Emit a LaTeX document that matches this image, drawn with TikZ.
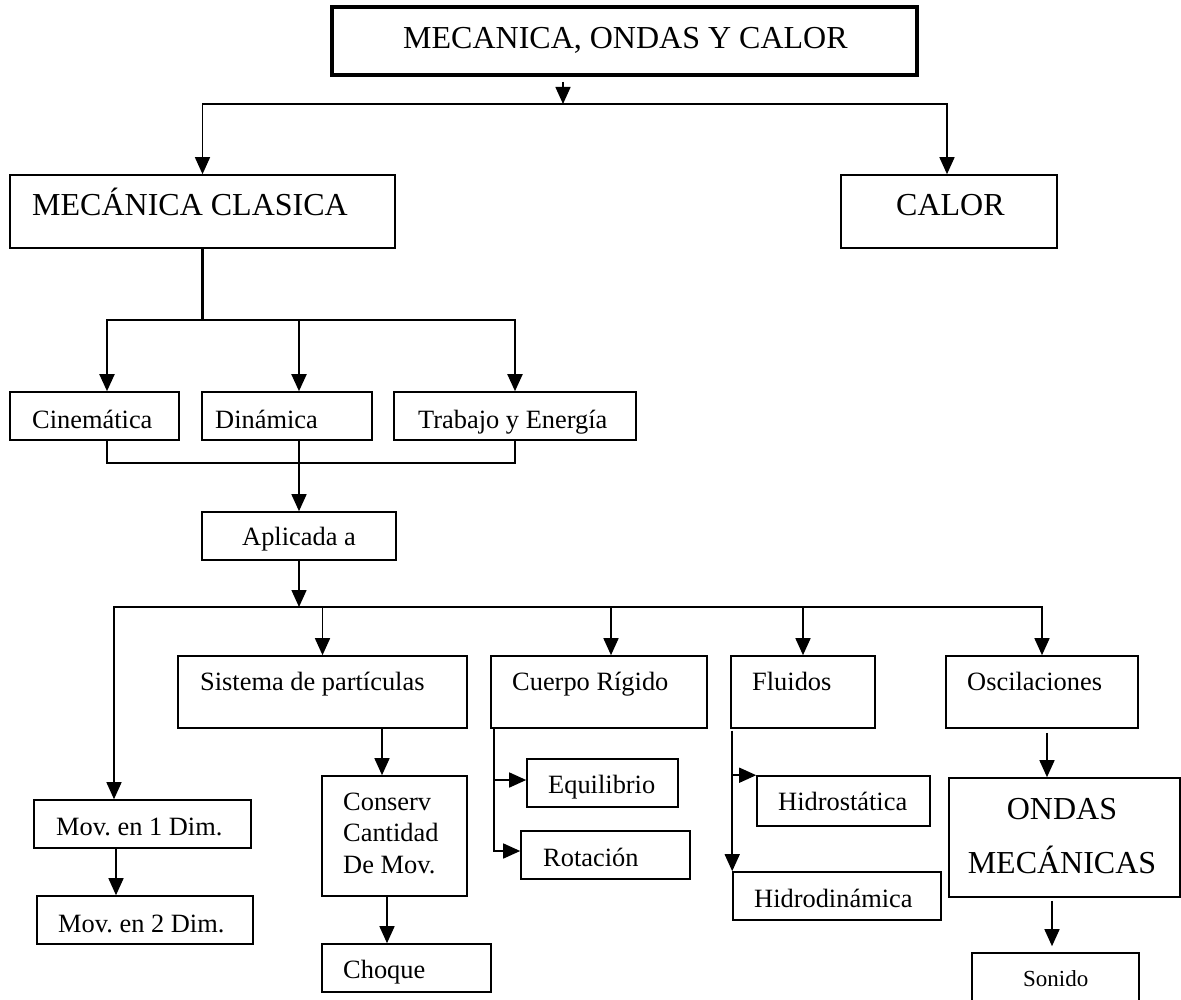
\documentclass[tikz,border=0pt]{standalone}
\usepackage{fontspec}
\setmainfont{Liberation Serif}
\usepackage{tikz}
\usetikzlibrary{arrows.meta}
\frenchspacing

\begin{document}
\begin{tikzpicture}[x=1pt, y=-1pt,
  caja/.style={draw, line width=1.6pt, inner sep=0pt},
  letra/.style={anchor=base west, inner sep=0pt, font=\fontsize{26.4}{31.5}\selectfont},
  letragrande/.style={anchor=base west, inner sep=0pt, font=\fontsize{32}{38}\selectfont},
  flecha/.style={line width=1.5pt, -{Triangle[length=17pt, width=15pt]}},
  gruesa/.style={line width=2.6pt}]
\useasboundingbox (0,0) rectangle (1181,1000);
\clip (0,0) rectangle (1181,1000);

% cajas
\node[caja, line width=3.6pt, minimum width=585pt, minimum height=68pt] (general) at (624.5,41) {};
\node[caja, minimum width=385pt, minimum height=73pt] (clasica) at (202.5,211.5) {};
\node[caja, minimum width=216pt, minimum height=73pt] (calor) at (949,211.5) {};
\node[caja, minimum width=169pt, minimum height=48pt] (cinematica) at (94.5,416) {};
\node[caja, minimum width=170pt, minimum height=48pt] (dinamica) at (287,416) {};
\node[caja, minimum width=242pt, minimum height=48pt] (trabajo) at (515,416) {};
\node[caja, minimum width=194pt, minimum height=48pt] (aplicada) at (299,536) {};
\node[caja, minimum width=289pt, minimum height=72pt] (sistema) at (322.5,692) {};
\node[caja, minimum width=216pt, minimum height=72pt] (cuerpo) at (599,692) {};
\node[caja, minimum width=144pt, minimum height=72pt] (fluidos) at (803,692) {};
\node[caja, minimum width=192pt, minimum height=72pt] (oscilaciones) at (1042,692) {};
\node[caja, minimum width=217pt, minimum height=48pt] (movuno) at (142.5,824) {};
\node[caja, minimum width=216pt, minimum height=48pt] (movdos) at (145,920) {};
\node[caja, minimum width=145pt, minimum height=120pt] (conserv) at (394.5,836) {};
\node[caja, minimum width=169pt, minimum height=48pt] (choque) at (406.5,968) {};
\node[caja, minimum width=151pt, minimum height=48pt] (equilibrio) at (602.5,783) {};
\node[caja, minimum width=169pt, minimum height=48pt] (rotacion) at (605.5,855) {};
\node[caja, minimum width=173pt, minimum height=50pt] (hidrostatica) at (843.5,801) {};
\node[caja, minimum width=208pt, minimum height=48pt] (hidrodinamica) at (837,896) {};
\node[caja, minimum width=231pt, minimum height=119pt] (ondas) at (1064.5,837.5) {};
\node[caja, minimum width=167pt, minimum height=52pt] (sonido) at (1055.5,979) {};

% textos
\node[letragrande] (general-t) at (403,49) {MECANICA, ONDAS Y CALOR};
\node[letragrande] (clasica-t) at (32,216) {MECÁNICA CLASICA};
\node[letragrande] (calor-t) at (896,216) {CALOR};
\node[letra] (cinematica-t) at (32,428) {Cinemática};
\node[letra] (dinamica-t) at (215,428) {Dinámica};
\node[letra] (trabajo-t) at (418,428) {Trabajo y Energía};
\node[letra] (aplicada-t) at (242,545) {Aplicada a};
\node[letra] (sistema-t) at (200,690) {Sistema de partículas};
\node[letra] (cuerpo-t) at (512,690) {Cuerpo Rígido};
\node[letra] (fluidos-t) at (752,690) {Fluidos};
\node[letra] (oscilaciones-t) at (967,690) {Oscilaciones};
\node[letra] (movuno-t) at (56,835) {Mov. en 1 Dim.};
\node[letra] (movdos-t) at (58,932) {Mov. en 2 Dim.};
\node[letra, align=left] (conserv-t) at (343,873) {Conserv\\Cantidad\\De Mov.};
\node[letra] (choque-t) at (343,978) {Choque};
\node[letra] (equilibrio-t) at (548,793) {Equilibrio};
\node[letra] (rotacion-t) at (543,866) {Rotación};
\node[letra] (hidrostatica-t) at (778,810) {Hidrostática};
\node[letra] (hidrodinamica-t) at (754,907) {Hidrodinámica};
\node[letragrande, anchor=base, align=center, font=\fontsize{32}{54}\selectfont] (ondas-t) at (1062,873) {ONDAS\\MECÁNICAS};
\node[letra, font=\fontsize{23}{28}\selectfont] (sonido-t) at (1023,986) {Sonido};

% conectores
\coordinate (ramaA) at (563,104);
\coordinate (ramaB) at (202.5,320);
\coordinate (ramaC) at (299,463);
\coordinate (ramaD) at (299,607);

\draw[flecha] ([yshift=-5pt]general.south -| ramaA) -- (ramaA);
\draw[flecha] (ramaA) -| (clasica.north);
\draw[flecha] (ramaA) -| ([xshift=-2pt]calor.north);

\draw[gruesa] (clasica.south) -- (ramaB);
\draw[flecha, line width=1.9pt] (ramaB) -| ([xshift=12.5pt]cinematica.north);
\draw[flecha, line width=1.9pt] (ramaB) -| ([xshift=12pt]dinamica.north);
\draw[flecha, line width=1.9pt] (ramaB) -| (trabajo.north);

\draw[gruesa] ([xshift=12.5pt]cinematica.south) |- (ramaC) -| (trabajo.south);
\draw[gruesa] ([xshift=12pt]dinamica.south) -- (ramaC);
\draw[flecha] (ramaC) -- (aplicada.north);

\draw[flecha] (aplicada.south) -- (ramaD);
\draw[flecha] (ramaD) -| ([xshift=-28.5pt]movuno.north);
\draw[flecha] (ramaD) -| (sistema.north);
\draw[flecha] (ramaD) -| ([xshift=12pt]cuerpo.north);
\draw[flecha] (ramaD) -| (fluidos.north);
\draw[flecha] (ramaD) -| (oscilaciones.north);

\draw[flecha] ([xshift=-26.5pt]movuno.south) -- ([xshift=-29pt]movdos.north);
\draw[flecha] ([xshift=59.5pt]sistema.south) -- ([xshift=-12.5pt]conserv.north);
\draw[flecha] ([xshift=-7.5pt]conserv.south) -- ([xshift=-19.5pt]choque.north);

\draw[flecha] ([xshift=4pt]cuerpo.south west) |- ([yshift=3pt]equilibrio.west);
\draw[flecha] ([xshift=4pt]cuerpo.south west) |- ([yshift=4pt]rotacion.west);

\draw[flecha] ([xshift=2pt,yshift=-2pt]fluidos.south west) -- (hidrodinamica.north west);
\draw[flecha] ([xshift=2pt,yshift=-2pt]fluidos.south west) |- (hidrostatica.north west);

\draw[flecha] ([xshift=5pt,yshift=-4pt]oscilaciones.south) -- ([xshift=-17.5pt]ondas.north);
\draw[flecha] ([xshift=-12.5pt,yshift=-3pt]ondas.south) -- ([xshift=-3.5pt,yshift=6pt]sonido.north);
\end{tikzpicture}
\end{document}
